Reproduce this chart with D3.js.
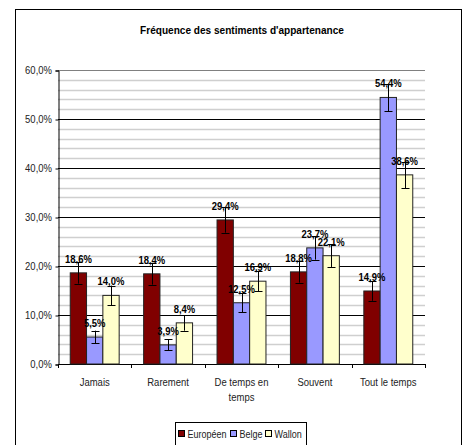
<!DOCTYPE html>
<html><head><meta charset="utf-8">
<script src="https://cdn.jsdelivr.net/npm/d3@7"></script>
<style>
html,body{margin:0;padding:0;background:#fff;}
svg text{font-family:"Liberation Sans",Arial,sans-serif;}
</style></head>
<body>
<script>
const categories = [["Jamais"], ["Rarement"], ["De temps en", "temps"], ["Souvent"], ["Tout le temps"]];
const seriesNames = ["Européen", "Belge", "Wallon"];
const europeen = [18.6, 18.4, 29.4, 18.8, 14.9];
const belge = [5.5, 3.9, 12.5, 23.7, 54.4];
const wallon = [14.0, 8.4, 16.9, 22.1, 38.6];
const errEuropeen = [2.2, 2.2, 2.6, 2.2, 2.0];
const errBelge = [1.3, 1.1, 1.9, 2.4, 2.8];
const errWallon = [2.0, 1.6, 2.1, 2.3, 2.7];
const yTicks = [0, 10, 20, 30, 40, 50, 60];
const title = "Fréquence des sentiments d'appartenance";
const colors = ["#800000", "#9999ff", "#ffffcc"];

(function () {
const values = [europeen, belge, wallon];
const errors = [errEuropeen, errBelge, errWallon];
const W = 462, H = 445;
const svg = d3.select("body").append("svg").attr("width", W).attr("height", H);

// outer frame
svg.append("rect").attr("x", 15.5).attr("y", 9.5).attr("width", 446).attr("height", 440)
  .attr("fill", "#fff").attr("stroke", "#000").attr("stroke-width", 1);

const pL = 58, pR = 425, pT = 70, pB = 364;
const y = d3.scaleLinear().domain([0, 60]).range([pB, pT]);
const x0 = d3.scaleBand().domain(d3.range(categories.length)).range([pL, pR]).paddingInner(0).paddingOuter(0);
const barW = x0.bandwidth() / 4.5;
const gOff = barW * 0.75;

function txt(g, x, yy, s, size, weight, anchor, sx) {
  return g.append("text").attr("transform", `translate(${x},${yy}) scale(${sx},1)`)
    .attr("font-size", size).attr("font-weight", weight).attr("text-anchor", anchor)
    .attr("fill", "#000").text(s);
}

// title
txt(svg, 242, 34, title, 10.5, "bold", "middle", 0.96);

// minor gridlines
const minor = d3.range(2, 60, 2).filter(v => v % 10 !== 0);
svg.append("g").selectAll("line").data(minor).join("line")
  .attr("x1", pL).attr("x2", pR).attr("y1", d => Math.round(y(d)) + 0.5).attr("y2", d => Math.round(y(d)) + 0.5)
  .attr("stroke", "#cfcfcf").attr("stroke-width", 1.5);
// major gridlines
svg.append("g").selectAll("line").data(yTicks.filter(v => v > 0)).join("line")
  .attr("x1", pL).attr("x2", pR).attr("y1", d => Math.round(y(d)) + 0.5).attr("y2", d => Math.round(y(d)) + 0.5)
  .attr("stroke", d => d === 60 ? "#808080" : "#000").attr("stroke-width", 1);

// y axis
const yAxis = d3.axisLeft(y).tickValues(yTicks).tickSize(3).tickFormat(d => d3.format(".1f")(d).replace(".", ",") + "%");
const gy = svg.append("g").attr("transform", `translate(${pL + 0.5},0.5)`).call(yAxis);
gy.select(".domain").attr("stroke", "#000");
gy.selectAll(".tick line").attr("stroke", "#000");
gy.selectAll(".tick text").remove();
yTicks.forEach(t => txt(svg, 52, y(t) + 3.5, d3.format(".1f")(t).replace(".", ",") + "%", 10, "normal", "end", 0.95).attr("fill", "#222"));

// x axis
svg.append("line").attr("x1", pL).attr("x2", pR).attr("y1", pB + 0.5).attr("y2", pB + 0.5).attr("stroke", "#000");
const bounds = d3.range(categories.length + 1).map(i => pL + i * x0.bandwidth());
svg.append("g").selectAll("line").data(bounds).join("line")
  .attr("x1", d => Math.round(d) + 0.5).attr("x2", d => Math.round(d) + 0.5).attr("y1", pB).attr("y2", pB + 4).attr("stroke", "#000");
categories.forEach((c, i) => {
  c.forEach((line, j) => txt(svg, x0(i) + x0.bandwidth() / 2, 386 + j * 15, line, 10, "normal", "middle", 0.95).attr("fill", "#222"));
});

// bars
const bars = svg.append("g");
values.forEach((vals, s) => {
  vals.forEach((v, i) => {
    const bx = x0(i) + gOff + s * barW;
    bars.append("rect").attr("x", bx).attr("y", y(v)).attr("width", barW).attr("height", y(0) - y(v))
      .attr("fill", colors[s]).attr("stroke", "#222").attr("stroke-width", 1);
  });
});
// labels
values.forEach((vals, s) => {
  vals.forEach((v, i) => {
    const cx = x0(i) + gOff + s * barW + barW / 2;
    txt(svg, cx, y(v) - 10, d3.format(".1f")(v).replace(".", ",") + "%", 11, "bold", "middle", 0.86);
  });
});
// error bars
const eg = svg.append("g").attr("stroke", "#000").attr("stroke-width", 1);
values.forEach((vals, s) => {
  vals.forEach((v, i) => {
    const cx = Math.round(x0(i) + gOff + s * barW + barW / 2) + 0.5;
    const e = errors[s][i];
    eg.append("line").attr("x1", cx).attr("x2", cx).attr("y1", y(v + e)).attr("y2", y(v - e));
    [v + e, v - e].forEach(t => eg.append("line").attr("x1", cx - 4).attr("x2", cx + 4).attr("y1", Math.round(y(t)) + 0.5).attr("y2", Math.round(y(t)) + 0.5));
  });
});

// legend
const lg = svg.append("g");
lg.append("rect").attr("x", 175.5).attr("y", 422.5).attr("width", 131).attr("height", 30).attr("fill", "#fff").attr("stroke", "#000");
const legX = [178.5, 230.5, 265.5];
seriesNames.forEach((n, s) => {
  lg.append("rect").attr("x", legX[s]).attr("y", 430.5).attr("width", 6).attr("height", 6).attr("fill", colors[s]).attr("stroke", "#000");
  txt(lg, legX[s] + 9, 437.5, n, 10, "normal", "start", 0.9).attr("fill", "#222");
});
})();
</script>
</body></html>
